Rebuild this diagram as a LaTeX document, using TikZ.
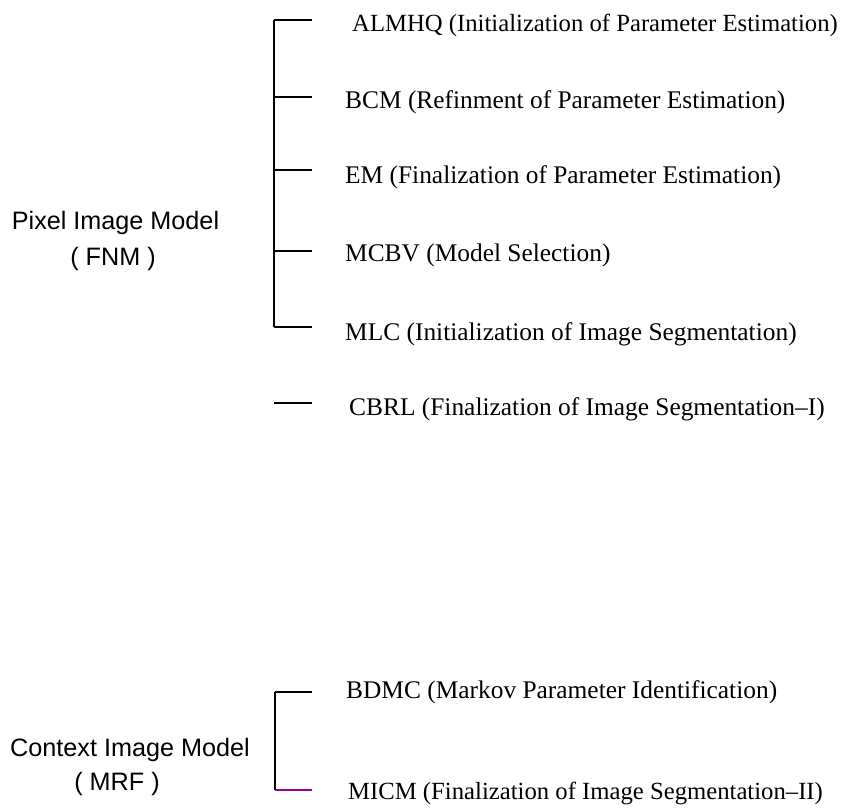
\documentclass[tikz,border=0pt]{standalone}
\usepackage{fontspec}
\setmainfont{Liberation Serif}
\newfontfamily\arialfont{Liberation Sans}
\begin{document}
\begin{tikzpicture}[x=1pt,y=-1pt,
  method/.style={anchor=base west,inner sep=0pt,font=\fontsize{25.4}{28}\selectfont},
  narrow/.style={font=\fontsize{24.7}{28}\selectfont},
  model/.style={anchor=base,inner sep=0pt,font=\arialfont\fontsize{25.2}{28}\selectfont},
  branch/.style={line width=1.6pt}]
\useasboundingbox (0,0) rectangle (847,807);
% pixel model branches
\coordinate (t1) at (274,20);
\coordinate (t2) at (274,97);
\coordinate (t3) at (274,170);
\coordinate (t4) at (274,251);
\coordinate (t5) at (274,327);
\coordinate (t6) at (274,403);
\node[method,narrow] (m1) at (352,31) {ALMHQ (Initialization of Parameter Estimation)};
\node[method] (m2) at (345,108) {BCM (Refinment of Parameter Estimation)};
\node[method] (m3) at (345,183) {EM (Finalization of Parameter Estimation)};
\node[method] (m4) at (345,261) {MCBV (Model Selection)};
\node[method] (m5) at (345,340) {MLC (Initialization of Image Segmentation)};
\node[method] (m6) at (349,415) {CBRL (Finalization of Image Segmentation–I)};
\draw[branch] (t1) -- (t5);
\foreach \i in {1,...,6} \draw[branch] (t\i) -- ++(38,0);
\node[model] (pm) at (115.5,229) {Pixel Image Model};
\node[model] (pa) at (113,265) {( FNM )};
% context model branches
\coordinate (b1) at (275,692);
\coordinate (b2) at (275,790);
\node[method] (c1) at (346,698) {BDMC (Markov Parameter Identification)};
\node[method,narrow] (c2) at (348,799) {MICM (Finalization of Image Segmentation–II)};
\draw[branch] (b1) -- (b2);
\draw[branch] (b1) -- ++(37,0);
\draw[branch,draw=violet!80!magenta] (b2) -- ++(37,0);
\node[model] (cm) at (130,756) {Context Image Model};
\node[model] (ca) at (117,790) {( MRF )};
\end{tikzpicture}
\end{document}
